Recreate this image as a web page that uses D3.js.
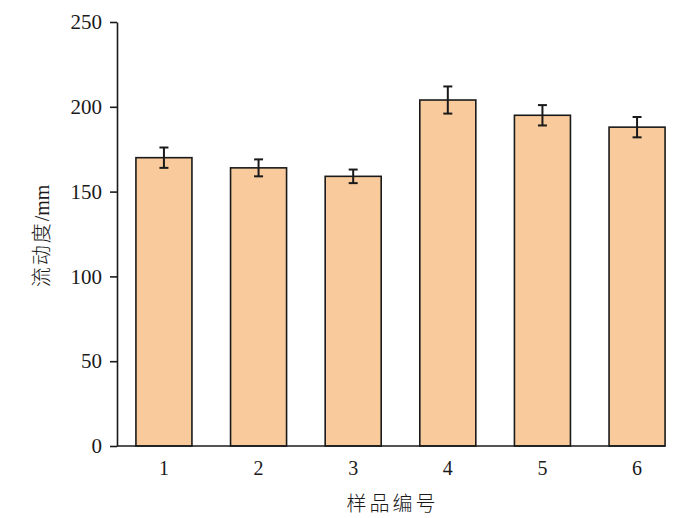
<!DOCTYPE html>
<html>
<head>
<meta charset="utf-8">
<script src="https://cdn.jsdelivr.net/npm/d3@7"></script>
<style>
  body { margin: 0; background: #fff; }
  svg text { fill: #1a1a1a; }
</style>
</head>
<body>
<div id="chart"></div>
<script>
var samples = ["1", "2", "3", "4", "5", "6"]
var fluidity = [170, 164, 159, 204, 195, 188]
var errors = [6, 5, 4, 8, 6, 6]
var yTicks = [0, 50, 100, 150, 200, 250]

var width = 700, height = 518
var plotLeft = 117, plotTop = 22, plotBottom = 446
var serif = "'Liberation Serif', 'Times New Roman', serif"
var cjk = "'Noto Sans CJK SC', sans-serif"

var svg = d3.select("#chart").append("svg")
  .attr("width", width)
  .attr("height", height)

var x = d3.scaleBand()
  .domain(samples)
  .range([plotLeft, 684])
  .paddingInner(0.408)
  .paddingOuter(0.2)

var y = d3.scaleLinear()
  .domain([0, 250])
  .range([plotBottom, plotTop])

var data = samples.map(function(s, i){
  return { name: s, value: fluidity[i], err: errors[i] }
})

// bars
svg.selectAll("rect.bar")
    .data(data)
  .enter().append("rect")
    .attr("class", "bar")
    .attr("x", function(d){ return x(d.name) })
    .attr("y", function(d){ return y(d.value) })
    .attr("width", x.bandwidth())
    .attr("height", function(d){ return y(0) - y(d.value) })
    .style("fill", "#f8ca9c")
    .style("stroke", "#1a1a1a")
    .style("stroke-width", 1.6)

// error bars
var eb = svg.selectAll("g.err")
    .data(data)
  .enter().append("g")
    .attr("class", "err")
    .style("stroke", "#1a1a1a")
    .style("stroke-width", 2)

eb.append("line")
  .attr("x1", function(d){ return x(d.name) + x.bandwidth()/2 })
  .attr("x2", function(d){ return x(d.name) + x.bandwidth()/2 })
  .attr("y1", function(d){ return y(d.value + d.err) })
  .attr("y2", function(d){ return y(d.value - d.err) })

eb.selectAll("line.cap")
    .data(function(d){ return [d.value + d.err, d.value - d.err].map(function(v){ return { name: d.name, v: v } }) })
  .enter().append("line")
    .attr("class", "cap")
    .attr("x1", function(d){ return x(d.name) + x.bandwidth()/2 - 4.5 })
    .attr("x2", function(d){ return x(d.name) + x.bandwidth()/2 + 4.5 })
    .attr("y1", function(d){ return y(d.v) })
    .attr("y2", function(d){ return y(d.v) })

// y axis
var yAxis = svg.append("g")
  .attr("transform", "translate(" + plotLeft + ",0)")
  .call(d3.axisLeft(y).tickValues(yTicks).tickSize(7).tickPadding(8).tickSizeOuter(0))

yAxis.select(".domain").style("stroke", "#1a1a1a").style("stroke-width", 1.6)
yAxis.selectAll(".tick line").style("stroke", "#1a1a1a").style("stroke-width", 1.6)
yAxis.selectAll(".tick text")
  .style("font-family", serif)
  .style("font-size", "21px")
  .style("fill", "#1a1a1a")

// x axis baseline, ends at last bar
var lastX = x(samples[samples.length-1]) + x.bandwidth()
svg.append("line")
  .attr("x1", plotLeft).attr("x2", lastX)
  .attr("y1", y(0)).attr("y2", y(0))
  .style("stroke", "#1a1a1a")
  .style("stroke-width", 1.6)

var xAxis = svg.append("g")
  .attr("transform", "translate(0," + plotBottom + ")")
  .call(d3.axisBottom(x).tickSize(0).tickPadding(15))

xAxis.select(".domain").remove()
xAxis.selectAll(".tick text")
  .style("font-family", serif)
  .style("font-size", "20px")
  .style("fill", "#1a1a1a")

// titles
svg.append("text")
  .attr("x", (plotLeft + lastX)/2 + 1.5)
  .attr("y", 511)
  .attr("text-anchor", "middle")
  .style("font-family", cjk)
  .style("font-weight", 300)
  .style("font-size", "20px")
  .style("letter-spacing", "3px")
  .text("样品编号")

var yTitle = svg.append("text")
  .attr("transform", "translate(49,236) rotate(-90)")
  .attr("text-anchor", "middle")
  .style("font-size", "20px")

yTitle.append("tspan")
  .style("font-family", cjk)
  .style("font-weight", 300)
  .style("letter-spacing", "2px")
  .text("流动度")
yTitle.append("tspan")
  .style("font-family", serif)
  .text("/mm")
</script>
</body>
</html>
